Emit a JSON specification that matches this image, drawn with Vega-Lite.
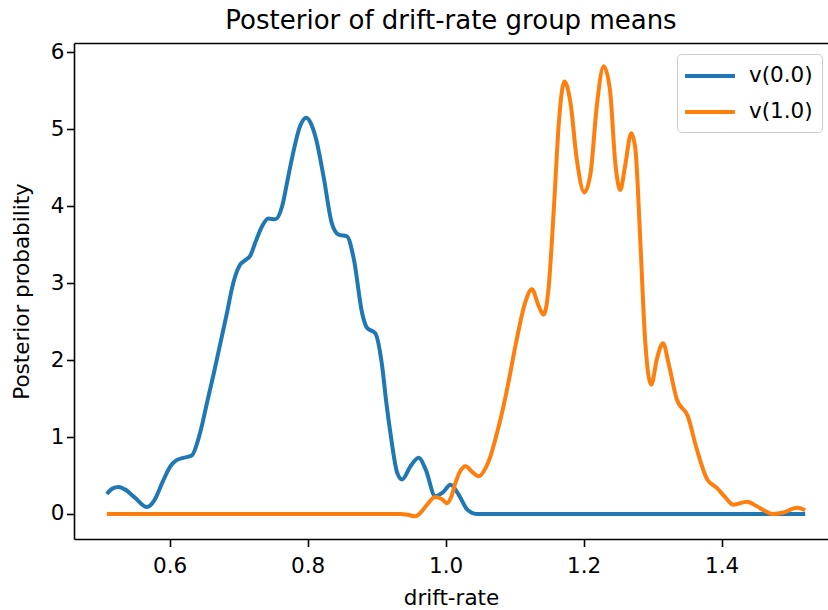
{
  "$schema": "https://vega.github.io/schema/vega-lite/v6.json",
  "width": 754,
  "height": 496,
  "autosize": {"type": "none"},
  "padding": {"left": 74, "top": 43, "right": 0, "bottom": 71},
  "background": "white",
  "title": {
    "text": "Posterior of drift-rate group means",
    "font": "DejaVu Sans",
    "fontSize": 26,
    "fontWeight": "normal",
    "color": "black",
    "anchor": "middle",
    "baseline": "alphabetic",
    "offset": 15,
    "dy": 29
  },
  "config": {
    "view": {"stroke": null},
    "axis": {
      "labelFont": "DejaVu Sans",
      "titleFont": "DejaVu Sans",
      "labelColor": "black",
      "titleColor": "black",
      "labelFontSize": 21.5,
      "titleFontSize": 21.5,
      "titleFontWeight": "normal",
      "grid": false,
      "domainColor": "black",
      "domainWidth": 1.6,
      "tickColor": "black",
      "tickWidth": 1.6,
      "tickSize": 7.5
    }
  },
  "data": {
    "values": [
      {"x": 0.509, "y": 0.26, "series": "v(0.0)"},
      {"x": 0.517, "y": 0.33, "series": "v(0.0)"},
      {"x": 0.526, "y": 0.35, "series": "v(0.0)"},
      {"x": 0.535, "y": 0.32, "series": "v(0.0)"},
      {"x": 0.550, "y": 0.21, "series": "v(0.0)"},
      {"x": 0.567, "y": 0.09, "series": "v(0.0)"},
      {"x": 0.578, "y": 0.18, "series": "v(0.0)"},
      {"x": 0.590, "y": 0.42, "series": "v(0.0)"},
      {"x": 0.601, "y": 0.62, "series": "v(0.0)"},
      {"x": 0.610, "y": 0.70, "series": "v(0.0)"},
      {"x": 0.620, "y": 0.73, "series": "v(0.0)"},
      {"x": 0.632, "y": 0.76, "series": "v(0.0)"},
      {"x": 0.644, "y": 1.05, "series": "v(0.0)"},
      {"x": 0.654, "y": 1.44, "series": "v(0.0)"},
      {"x": 0.664, "y": 1.83, "series": "v(0.0)"},
      {"x": 0.674, "y": 2.24, "series": "v(0.0)"},
      {"x": 0.683, "y": 2.61, "series": "v(0.0)"},
      {"x": 0.690, "y": 2.92, "series": "v(0.0)"},
      {"x": 0.695, "y": 3.09, "series": "v(0.0)"},
      {"x": 0.702, "y": 3.24, "series": "v(0.0)"},
      {"x": 0.710, "y": 3.30, "series": "v(0.0)"},
      {"x": 0.717, "y": 3.36, "series": "v(0.0)"},
      {"x": 0.725, "y": 3.55, "series": "v(0.0)"},
      {"x": 0.734, "y": 3.74, "series": "v(0.0)"},
      {"x": 0.743, "y": 3.84, "series": "v(0.0)"},
      {"x": 0.753, "y": 3.83, "series": "v(0.0)"},
      {"x": 0.763, "y": 4.00, "series": "v(0.0)"},
      {"x": 0.770, "y": 4.30, "series": "v(0.0)"},
      {"x": 0.777, "y": 4.61, "series": "v(0.0)"},
      {"x": 0.789, "y": 5.04, "series": "v(0.0)"},
      {"x": 0.798, "y": 5.15, "series": "v(0.0)"},
      {"x": 0.805, "y": 5.07, "series": "v(0.0)"},
      {"x": 0.812, "y": 4.88, "series": "v(0.0)"},
      {"x": 0.823, "y": 4.39, "series": "v(0.0)"},
      {"x": 0.835, "y": 3.78, "series": "v(0.0)"},
      {"x": 0.845, "y": 3.63, "series": "v(0.0)"},
      {"x": 0.857, "y": 3.61, "series": "v(0.0)"},
      {"x": 0.867, "y": 3.31, "series": "v(0.0)"},
      {"x": 0.879, "y": 2.61, "series": "v(0.0)"},
      {"x": 0.886, "y": 2.42, "series": "v(0.0)"},
      {"x": 0.898, "y": 2.35, "series": "v(0.0)"},
      {"x": 0.908, "y": 1.92, "series": "v(0.0)"},
      {"x": 0.914, "y": 1.45, "series": "v(0.0)"},
      {"x": 0.920, "y": 1.05, "series": "v(0.0)"},
      {"x": 0.930, "y": 0.53, "series": "v(0.0)"},
      {"x": 0.937, "y": 0.45, "series": "v(0.0)"},
      {"x": 0.949, "y": 0.62, "series": "v(0.0)"},
      {"x": 0.961, "y": 0.73, "series": "v(0.0)"},
      {"x": 0.971, "y": 0.58, "series": "v(0.0)"},
      {"x": 0.985, "y": 0.23, "series": "v(0.0)"},
      {"x": 0.996, "y": 0.28, "series": "v(0.0)"},
      {"x": 1.007, "y": 0.38, "series": "v(0.0)"},
      {"x": 1.019, "y": 0.25, "series": "v(0.0)"},
      {"x": 1.031, "y": 0.06, "series": "v(0.0)"},
      {"x": 1.045, "y": 0.0, "series": "v(0.0)"},
      {"x": 1.100, "y": 0.0, "series": "v(0.0)"},
      {"x": 1.200, "y": 0.0, "series": "v(0.0)"},
      {"x": 1.300, "y": 0.0, "series": "v(0.0)"},
      {"x": 1.400, "y": 0.0, "series": "v(0.0)"},
      {"x": 1.521, "y": 0.0, "series": "v(0.0)"},
      {"x": 0.509, "y": 0.0, "series": "v(1.0)"},
      {"x": 0.600, "y": 0.0, "series": "v(1.0)"},
      {"x": 0.700, "y": 0.0, "series": "v(1.0)"},
      {"x": 0.800, "y": 0.0, "series": "v(1.0)"},
      {"x": 0.900, "y": 0.0, "series": "v(1.0)"},
      {"x": 0.934, "y": 0.0, "series": "v(1.0)"},
      {"x": 0.945, "y": -0.01, "series": "v(1.0)"},
      {"x": 0.956, "y": -0.03, "series": "v(1.0)"},
      {"x": 0.965, "y": 0.03, "series": "v(1.0)"},
      {"x": 0.973, "y": 0.12, "series": "v(1.0)"},
      {"x": 0.985, "y": 0.22, "series": "v(1.0)"},
      {"x": 0.995, "y": 0.19, "series": "v(1.0)"},
      {"x": 1.002, "y": 0.14, "series": "v(1.0)"},
      {"x": 1.008, "y": 0.22, "series": "v(1.0)"},
      {"x": 1.014, "y": 0.40, "series": "v(1.0)"},
      {"x": 1.022, "y": 0.57, "series": "v(1.0)"},
      {"x": 1.029, "y": 0.62, "series": "v(1.0)"},
      {"x": 1.038, "y": 0.55, "series": "v(1.0)"},
      {"x": 1.048, "y": 0.49, "series": "v(1.0)"},
      {"x": 1.058, "y": 0.60, "series": "v(1.0)"},
      {"x": 1.065, "y": 0.75, "series": "v(1.0)"},
      {"x": 1.072, "y": 0.97, "series": "v(1.0)"},
      {"x": 1.080, "y": 1.25, "series": "v(1.0)"},
      {"x": 1.089, "y": 1.62, "series": "v(1.0)"},
      {"x": 1.103, "y": 2.27, "series": "v(1.0)"},
      {"x": 1.115, "y": 2.74, "series": "v(1.0)"},
      {"x": 1.125, "y": 2.92, "series": "v(1.0)"},
      {"x": 1.135, "y": 2.70, "series": "v(1.0)"},
      {"x": 1.142, "y": 2.59, "series": "v(1.0)"},
      {"x": 1.149, "y": 2.92, "series": "v(1.0)"},
      {"x": 1.157, "y": 4.0, "series": "v(1.0)"},
      {"x": 1.164, "y": 5.08, "series": "v(1.0)"},
      {"x": 1.172, "y": 5.62, "series": "v(1.0)"},
      {"x": 1.181, "y": 5.34, "series": "v(1.0)"},
      {"x": 1.190, "y": 4.61, "series": "v(1.0)"},
      {"x": 1.201, "y": 4.18, "series": "v(1.0)"},
      {"x": 1.210, "y": 4.43, "series": "v(1.0)"},
      {"x": 1.219, "y": 5.30, "series": "v(1.0)"},
      {"x": 1.229, "y": 5.82, "series": "v(1.0)"},
      {"x": 1.238, "y": 5.52, "series": "v(1.0)"},
      {"x": 1.246, "y": 4.55, "series": "v(1.0)"},
      {"x": 1.253, "y": 4.21, "series": "v(1.0)"},
      {"x": 1.260, "y": 4.52, "series": "v(1.0)"},
      {"x": 1.269, "y": 4.95, "series": "v(1.0)"},
      {"x": 1.275, "y": 4.74, "series": "v(1.0)"},
      {"x": 1.282, "y": 3.57, "series": "v(1.0)"},
      {"x": 1.289, "y": 2.27, "series": "v(1.0)"},
      {"x": 1.298, "y": 1.68, "series": "v(1.0)"},
      {"x": 1.306, "y": 2.01, "series": "v(1.0)"},
      {"x": 1.315, "y": 2.22, "series": "v(1.0)"},
      {"x": 1.323, "y": 1.96, "series": "v(1.0)"},
      {"x": 1.335, "y": 1.49, "series": "v(1.0)"},
      {"x": 1.351, "y": 1.27, "series": "v(1.0)"},
      {"x": 1.364, "y": 0.84, "series": "v(1.0)"},
      {"x": 1.379, "y": 0.45, "series": "v(1.0)"},
      {"x": 1.393, "y": 0.34, "series": "v(1.0)"},
      {"x": 1.405, "y": 0.22, "series": "v(1.0)"},
      {"x": 1.417, "y": 0.12, "series": "v(1.0)"},
      {"x": 1.437, "y": 0.16, "series": "v(1.0)"},
      {"x": 1.451, "y": 0.10, "series": "v(1.0)"},
      {"x": 1.463, "y": 0.04, "series": "v(1.0)"},
      {"x": 1.473, "y": 0.0, "series": "v(1.0)"},
      {"x": 1.490, "y": 0.02, "series": "v(1.0)"},
      {"x": 1.509, "y": 0.08, "series": "v(1.0)"},
      {"x": 1.521, "y": 0.05, "series": "v(1.0)"}
    ]
  },
  "resolve": {"axis": {"x": "independent"}},
  "layer": [
    {
      "mark": {"type": "line", "strokeWidth": 4, "interpolate": "monotone"},
      "encoding": {
        "x": {
          "field": "x",
          "type": "quantitative",
          "scale": {"domain": [0.4614, 1.5541], "nice": false, "zero": false},
          "axis": {
            "values": [0.6, 0.8, 1.0, 1.2, 1.4],
            "format": ".1f",
            "title": "drift-rate",
            "labelBaseline": "alphabetic",
            "labelPadding": 26,
            "labelFlush": false,
            "titleY": 65,
            "titleBaseline": "alphabetic"
          }
        },
        "y": {
          "field": "y",
          "type": "quantitative",
          "scale": {"domain": [-0.325, 6.122], "nice": false, "zero": false},
          "axis": {
            "values": [0, 1, 2, 3, 4, 5, 6],
            "format": "d",
            "title": "Posterior probability",
            "labelPadding": 2.5,
            "labelFlush": false,
            "titleAngle": 270,
            "titleX": -52,
            "titleY": 248,
            "titleAlign": "center",
            "titleBaseline": "middle"
          }
        },
        "color": {
          "field": "series",
          "type": "nominal",
          "scale": {"domain": ["v(0.0)", "v(1.0)"], "range": ["#1f77b4", "#ff7f0e"]},
          "legend": {
            "title": null,
            "orient": "none",
            "legendX": 603,
            "legendY": 11,
            "padding": 9,
            "fillColor": "rgba(255,255,255,0.8)",
            "strokeColor": "#cccccc",
            "cornerRadius": 4,
            "labelFont": "DejaVu Sans",
            "labelFontSize": 21.5,
            "labelColor": "black",
            "labelOffset": 26,
            "rowPadding": 12,
            "symbolType": "M-2.27,0H2.27",
            "symbolSize": 484,
            "symbolStrokeWidth": 4,
            "symbolOffset": 11
          }
        }
      }
    },
    {
      "mark": {"type": "line", "opacity": 0},
      "encoding": {
        "x": {
          "field": "x",
          "type": "quantitative",
          "scale": {"domain": [0.4614, 1.5541], "nice": false, "zero": false},
          "axis": {"orient": "top", "labels": false, "ticks": false, "title": null, "domain": true}
        },
        "y": {"field": "y", "type": "quantitative"}
      }
    }
  ]
}
